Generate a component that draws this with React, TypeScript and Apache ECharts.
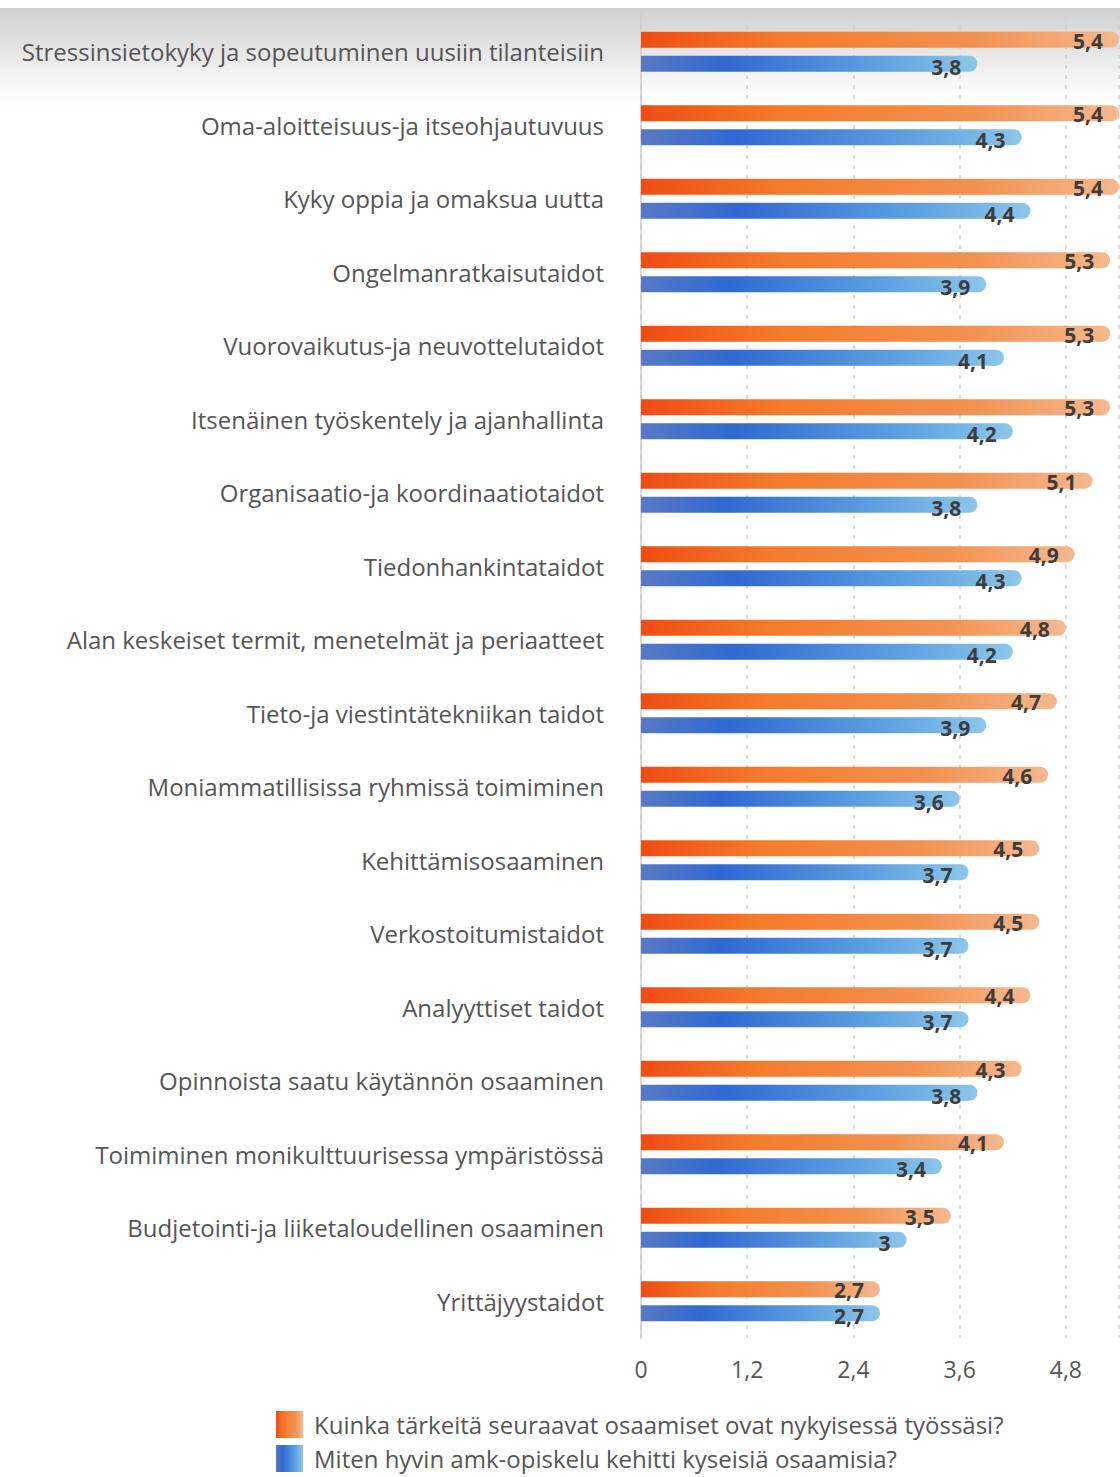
import React, { useEffect, useRef } from "react";
import * as echarts from "echarts";

const categories = [
  "Stressinsietokyky ja sopeutuminen uusiin tilanteisiin",
  "Oma-aloitteisuus-ja itseohjautuvuus",
  "Kyky oppia ja omaksua uutta",
  "Ongelmanratkaisutaidot",
  "Vuorovaikutus-ja neuvottelutaidot",
  "Itsenäinen työskentely ja ajanhallinta",
  "Organisaatio-ja koordinaatiotaidot",
  "Tiedonhankintataidot",
  "Alan keskeiset termit, menetelmät ja periaatteet",
  "Tieto-ja viestintätekniikan taidot",
  "Moniammatillisissa ryhmissä toimiminen",
  "Kehittämisosaaminen",
  "Verkostoitumistaidot",
  "Analyyttiset taidot",
  "Opinnoista saatu käytännön osaaminen",
  "Toimiminen monikulttuurisessa ympäristössä",
  "Budjetointi-ja liiketaloudellinen osaaminen",
  "Yrittäjyystaidot",
];

const importance = [5.4, 5.4, 5.4, 5.3, 5.3, 5.3, 5.1, 4.9, 4.8, 4.7, 4.6, 4.5, 4.5, 4.4, 4.3, 4.1, 3.5, 2.7];
const development = [3.8, 4.3, 4.4, 3.9, 4.1, 4.2, 3.8, 4.3, 4.2, 3.9, 3.6, 3.7, 3.7, 3.7, 3.8, 3.4, 3, 2.7];

const seriesNames = [
  "Kuinka tärkeitä seuraavat osaamiset ovat nykyisessä työssäsi?",
  "Miten hyvin amk-opiskelu kehitti kyseisiä osaamisia?",
];

const xMin = 0;
const xMax = 5.4;
const xInterval = 1.2;

const FONT = "'Open Sans', Lato, sans-serif";

export default function App() {
  const ref = useRef<HTMLDivElement>(null);

  useEffect(() => {
    if (!ref.current) return;
    const chart = echarts.init(ref.current, null, { renderer: "svg" });

    const orangeGrad = new echarts.graphic.LinearGradient(0, 0, 1, 0, [
      { offset: 0, color: "#ef4c14" },
      { offset: 0.3, color: "#f47b2b" },
      { offset: 0.7, color: "#f29150" },
      { offset: 1, color: "#f6b88e" },
    ]);
    const blueGrad = new echarts.graphic.LinearGradient(0, 0, 1, 0, [
      { offset: 0, color: "#5879c4" },
      { offset: 0.25, color: "#3069d2" },
      { offset: 0.7, color: "#5da0e0" },
      { offset: 1, color: "#8cc6ea" },
    ]);

    const makeLabel = (dy: number) => ({
      show: true,
      position: "insideRight" as const,
      offset: [-11, dy],
      fontFamily: FONT,
      fontWeight: "bold" as const,
      fontSize: 21,
      lineHeight: 20,
      color: "#3d3d3d",
      formatter: (p: any) => String(p.value).replace(".", ","),
    });

    const legendBase = {
      orient: "horizontal",
      left: 276,
      itemWidth: 27,
      itemHeight: 27,
      padding: 0,
      icon: "rect",
      textStyle: {
        fontFamily: FONT,
        fontSize: 24,
        lineHeight: 27,
        color: "#555555",
        padding: [0, 0, 0, 6],
      },
    };

    chart.setOption({
      animation: false,
      backgroundColor: "#ffffff",
      graphic: [
        {
          type: "rect",
          z: -10,
          silent: true,
          shape: { x: 0, y: 8, width: 1120, height: 110 },
          style: {
            fill: new echarts.graphic.LinearGradient(0, 0, 0, 1, [
              { offset: 0, color: "#d0d0d0" },
              { offset: 0.5, color: "#ececec" },
              { offset: 1, color: "rgba(255,255,255,0)" },
            ]),
          },
        },
      ],
      grid: { left: 641, right: 1, top: 15, bottom: 139, containLabel: false },
      legend: [
        { ...legendBase, top: 1411, data: [seriesNames[0]] },
        { ...legendBase, top: 1445, data: [seriesNames[1]] },
      ],
      xAxis: {
        type: "value",
        min: xMin,
        max: xMax,
        interval: xInterval,
        axisLine: { show: false },
        axisTick: { show: false },
        axisLabel: {
          showMaxLabel: false,
          margin: 19,
          fontFamily: FONT,
          fontSize: 23,
          color: "#555555",
          formatter: (v: number) => String(Math.round(v * 10) / 10).replace(".", ","),
        },
        splitLine: { show: true, lineStyle: { color: "#cfcfcf", type: [4, 6], width: 1.5 } },
      },
      yAxis: {
        type: "category",
        inverse: true,
        data: categories,
        axisLine: { show: true, lineStyle: { color: "#cccccc", width: 1.5 } },
        axisTick: { show: false },
        axisLabel: {
          margin: 37,
          fontFamily: FONT,
          fontSize: 24,
          color: "#555555",
        },
      },
      series: [
        {
          name: seriesNames[0],
          type: "bar",
          data: importance,
          barWidth: 16,
          barGap: "50%",
          itemStyle: { color: orangeGrad, borderRadius: [0, 8, 8, 0] },
          label: makeLabel(1),
        },
        {
          name: seriesNames[1],
          type: "bar",
          data: development,
          barWidth: 16,
          itemStyle: { color: blueGrad, borderRadius: [0, 8, 8, 0] },
          label: makeLabel(3),
        },
      ],
    });

    return () => chart.dispose();
  }, []);

  return (
    <div
      ref={ref}
      style={{ position: "absolute", left: 0, top: 0, width: 1120, height: 1477 }}
    />
  );
}
